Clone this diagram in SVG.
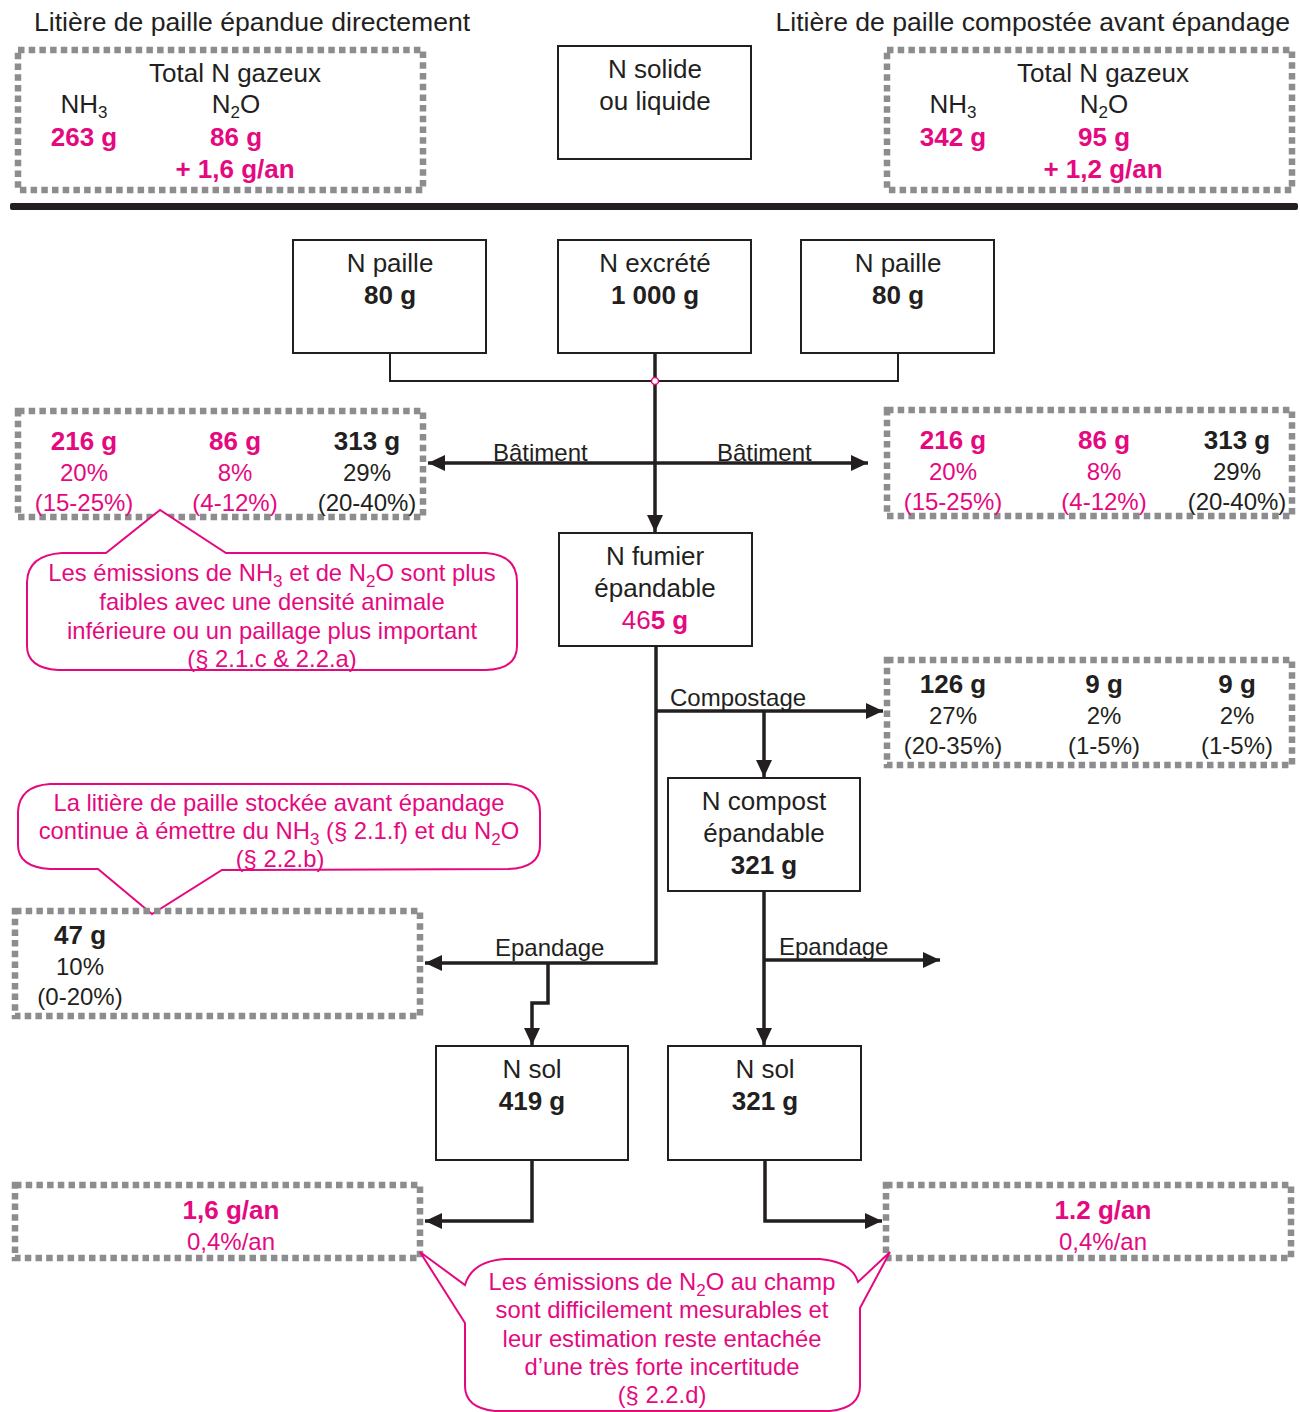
<svg xmlns="http://www.w3.org/2000/svg" width="1300" height="1412" viewBox="0 0 1300 1412">
<defs>
<marker id="arr" markerUnits="userSpaceOnUse" markerWidth="18" markerHeight="16" refX="17" refY="8" orient="auto">
<path d="M0,0 L17,8 L0,16 Z" fill="#231f20"/>
</marker>
<style>
text{font-family:"Liberation Sans",Arial,sans-serif;fill:#231f20}
.t26{font-size:26px}
.t24{font-size:24px}
.b{font-weight:bold}
.pk{fill:#e5097f}
.m{text-anchor:middle}
.dash{fill:none;stroke:#8d8d8f;stroke-width:6.5;stroke-dasharray:6.5 4.2}
.box{fill:#fff;stroke:#231f20;stroke-width:2}
.call{fill:#fff;stroke:#e5097f;stroke-width:2}
.c{fill:none;stroke:#231f20;stroke-width:3.5}
.thin{fill:none;stroke:#231f20;stroke-width:2}
.cl{font-size:23.8px;fill:#e5097f;text-anchor:middle}
.sub{font-size:17px}
</style>
</defs>
<rect width="1300" height="1412" fill="#fff"/>

<!-- titles -->
<text x="34" y="31" font-size="26.6">Litière de paille épandue directement</text>
<text x="1290" y="31" font-size="26.6" text-anchor="end">Litière de paille compostée avant épandage</text>

<!-- top gas boxes -->
<g id="gas-left">
<rect class="dash" x="18" y="50" width="405" height="140"/>
<text class="t26 m" x="235" y="82">Total N gazeux</text>
<text class="t26 m" x="84" y="113">NH<tspan class="sub" dy="5">3</tspan></text>
<text class="t26 m" x="236" y="113">N<tspan class="sub" dy="5">2</tspan><tspan dy="-5">O</tspan></text>
<text class="t26 m b pk" x="84" y="146">263 g</text>
<text class="t26 m b pk" x="236" y="146">86 g</text>
<text class="t26 m b pk" x="235" y="178">+ 1,6 g/an</text>
</g>
<g id="n-solide">
<rect class="box" x="558" y="46" width="193" height="113"/>
<text class="t26 m" x="655" y="78">N solide</text>
<text class="t26 m" x="655" y="110">ou liquide</text>
</g>
<g id="gas-right">
<rect class="dash" x="887" y="50" width="405" height="140"/>
<text class="t26 m" x="1103" y="82">Total N gazeux</text>
<text class="t26 m" x="953" y="113">NH<tspan class="sub" dy="5">3</tspan></text>
<text class="t26 m" x="1104" y="113">N<tspan class="sub" dy="5">2</tspan><tspan dy="-5">O</tspan></text>
<text class="t26 m b pk" x="953" y="146">342 g</text>
<text class="t26 m b pk" x="1104" y="146">95 g</text>
<text class="t26 m b pk" x="1103" y="178">+ 1,2 g/an</text>
</g>

<rect id="separator" x="10" y="203" width="1288" height="7" rx="2" fill="#231f20"/>

<!-- connectors -->
<g id="connectors">
<polyline class="thin" points="390,353 390,381 898,381 898,353"/>
<line class="c" x1="655" y1="353" x2="655" y2="532" marker-end="url(#arr)"/>
<line class="c" x1="655" y1="463" x2="428" y2="463" marker-end="url(#arr)"/>
<line class="c" x1="655" y1="463" x2="868" y2="463" marker-end="url(#arr)"/>
<circle cx="655" cy="381" r="3.5" fill="#fff" stroke="#e5097f" stroke-width="1.5"/>
<polyline class="c" points="656,646 656,963 425,963" marker-end="url(#arr)"/>
<line class="c" x1="656" y1="711" x2="883" y2="711" marker-end="url(#arr)"/>
<line class="c" x1="764" y1="711" x2="764" y2="777" marker-end="url(#arr)"/>
<polyline class="c" points="548,963 548,1003 532,1003 532,1045" marker-end="url(#arr)"/>
<line class="c" x1="764" y1="891" x2="764" y2="1045" marker-end="url(#arr)"/>
<line class="c" x1="764" y1="960" x2="940" y2="960" marker-end="url(#arr)"/>
<polyline class="c" points="532,1160 532,1221 425,1221" marker-end="url(#arr)"/>
<polyline class="c" points="765,1160 765,1221 882,1221" marker-end="url(#arr)"/>
<text class="t24" x="493" y="461">Bâtiment</text>
<text class="t24" x="717" y="461">Bâtiment</text>
<text class="t24" x="670" y="706">Compostage</text>
<text class="t24" x="495" y="956">Epandage</text>
<text class="t24" x="779" y="955">Epandage</text>
</g>

<!-- nodes -->
<g id="n-paille-left">
<rect class="box" x="293" y="240" width="193" height="113"/>
<text class="t26 m" x="390" y="272">N paille</text>
<text class="t26 m b" x="390" y="304">80 g</text>
</g>
<g id="n-excrete">
<rect class="box" x="558" y="240" width="193" height="113"/>
<text class="t26 m" x="655" y="272">N excrété</text>
<text class="t26 m b" x="655" y="304">1 000 g</text>
</g>
<g id="n-paille-right">
<rect class="box" x="801" y="240" width="193" height="113"/>
<text class="t26 m" x="898" y="272">N paille</text>
<text class="t26 m b" x="898" y="304">80 g</text>
</g>

<g id="bat-left">
<rect class="dash" x="18" y="411" width="405" height="106"/>
<text class="t26 m b pk" x="84" y="450">216 g</text>
<text class="t24 m pk" x="84" y="481">20%</text>
<text class="t24 m pk" x="84" y="511">(15-25%)</text>
<text class="t26 m b pk" x="235" y="450">86 g</text>
<text class="t24 m pk" x="235" y="481">8%</text>
<text class="t24 m pk" x="235" y="511">(4-12%)</text>
<text class="t26 m b" x="367" y="450">313 g</text>
<text class="t24 m" x="367" y="481">29%</text>
<text class="t24 m" x="367" y="511">(20-40%)</text>
</g>
<g id="bat-right">
<rect class="dash" x="887" y="410" width="405" height="106"/>
<text class="t26 m b pk" x="953" y="449">216 g</text>
<text class="t24 m pk" x="953" y="480">20%</text>
<text class="t24 m pk" x="953" y="510">(15-25%)</text>
<text class="t26 m b pk" x="1104" y="449">86 g</text>
<text class="t24 m pk" x="1104" y="480">8%</text>
<text class="t24 m pk" x="1104" y="510">(4-12%)</text>
<text class="t26 m b" x="1237" y="449">313 g</text>
<text class="t24 m" x="1237" y="480">29%</text>
<text class="t24 m" x="1237" y="510">(20-40%)</text>
</g>

<g id="callout-1">
<path class="call" d="M62,553 L106,553 L160,510 L226,553 L486,553 Q517,555 517,582 L517,646 Q517,669 486,670 L58,670 Q27,668 27,646 L27,582 Q28,555 62,553 Z"/>
<text class="cl" x="272" y="581">Les émissions de NH<tspan class="sub" dy="6">3</tspan><tspan dy="-6"> et de N</tspan><tspan class="sub" dy="6">2</tspan><tspan dy="-6">O sont plus</tspan></text>
<text class="cl" x="272" y="610">faibles avec une densité animale</text>
<text class="cl" x="272" y="639">inférieure ou un paillage plus important</text>
<text class="cl" x="272" y="667">(§ 2.1.c &amp; 2.2.a)</text>
</g>

<g id="n-fumier">
<rect class="box" x="559" y="533" width="193" height="113"/>
<text class="t26 m" x="655" y="565">N fumier</text>
<text class="t26 m" x="655" y="597">épandable</text>
<text class="t26 m pk" x="655" y="629">46<tspan font-weight="bold">5 g</tspan></text>
</g>

<g id="compostage-loss">
<rect class="dash" x="887" y="660" width="405" height="105"/>
<text class="t26 m b" x="953" y="693">126 g</text>
<text class="t24 m" x="953" y="724">27%</text>
<text class="t24 m" x="953" y="754">(20-35%)</text>
<text class="t26 m b" x="1104" y="693">9 g</text>
<text class="t24 m" x="1104" y="724">2%</text>
<text class="t24 m" x="1104" y="754">(1-5%)</text>
<text class="t26 m b" x="1237" y="693">9 g</text>
<text class="t24 m" x="1237" y="724">2%</text>
<text class="t24 m" x="1237" y="754">(1-5%)</text>
</g>

<g id="n-compost">
<rect class="box" x="668" y="778" width="192" height="113"/>
<text class="t26 m" x="764" y="810">N compost</text>
<text class="t26 m" x="764" y="842">épandable</text>
<text class="t26 m b" x="764" y="874">321 g</text>
</g>

<g id="callout-2">
<path class="call" d="M50,784 L508,784 Q540,786 540,812 L540,845 Q540,868 508,869 L222,870 L152,914 L98,869 L50,869 Q18,867 18,845 L18,812 Q19,786 50,784 Z"/>
<text class="cl" x="279" y="811">La litière de paille stockée avant épandage</text>
<text class="cl" x="279" y="839">continue à émettre du NH<tspan class="sub" dy="6">3</tspan><tspan dy="-6"> (§ 2.1.f) et du N</tspan><tspan class="sub" dy="6">2</tspan><tspan dy="-6">O</tspan></text>
<text class="cl" x="280" y="867">(§ 2.2.b)</text>
</g>

<g id="epandage-loss">
<rect class="dash" x="15" y="911" width="405" height="105"/>
<text class="t26 m b" x="80" y="944">47 g</text>
<text class="t24 m" x="80" y="975">10%</text>
<text class="t24 m" x="80" y="1005">(0-20%)</text>
</g>

<g id="n-sol-left">
<rect class="box" x="436" y="1046" width="192" height="114"/>
<text class="t26 m" x="532" y="1078">N sol</text>
<text class="t26 m b" x="532" y="1110">419 g</text>
</g>
<g id="n-sol-right">
<rect class="box" x="668" y="1046" width="193" height="114"/>
<text class="t26 m" x="765" y="1078">N sol</text>
<text class="t26 m b" x="765" y="1110">321 g</text>
</g>

<g id="champ-left">
<rect class="dash" x="15" y="1185" width="405" height="73"/>
<text class="t26 m b pk" x="231" y="1219">1,6 g/an</text>
<text class="t24 m pk" x="231" y="1250">0,4%/an</text>
</g>
<g id="champ-right">
<rect class="dash" x="886" y="1185" width="405" height="73"/>
<text class="t26 m b pk" x="1103" y="1219">1.2 g/an</text>
<text class="t24 m pk" x="1103" y="1250">0,4%/an</text>
</g>

<g id="callout-3">
<path class="call" d="M505,1259 L820,1259 Q852,1262 858,1282 L890,1252 L860,1308 L860,1386 Q860,1408 830,1411 L495,1411 Q465,1408 465,1386 L465,1323 L420,1252 L465,1285 Q472,1261 505,1259 Z"/>
<text class="cl" x="662" y="1290">Les émissions de N<tspan class="sub" dy="6">2</tspan><tspan dy="-6">O au champ</tspan></text>
<text class="cl" x="662" y="1318">sont difficilement mesurables et</text>
<text class="cl" x="662" y="1347">leur estimation reste entachée</text>
<text class="cl" x="662" y="1375">d’une très forte incertitude</text>
<text class="cl" x="662" y="1403">(§ 2.2.d)</text>
</g>
</svg>
